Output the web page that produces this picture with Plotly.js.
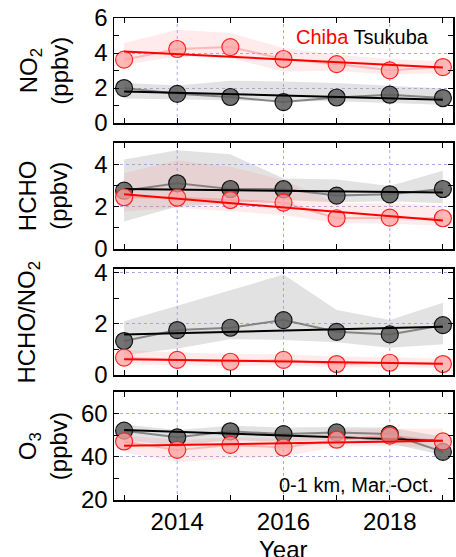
<!DOCTYPE html>
<html>
<head>
<meta charset="utf-8">
<script src="https://cdn.plot.ly/plotly-3.0.1.min.js"></script>
<style>html,body{margin:0;padding:0;background:#fff;} #chart{width:456px;height:557px;}</style>
</head>
<body>
<div id="chart"></div>
<script>
const years = [2013, 2014, 2015, 2016, 2017, 2018, 2019];
const trendYears = [2013, 2019];
const xTickLabels = ["", "2014", "", "2016", "", "2018", ""];

// NO2 (ppbv)
const chibaNO2 = [3.62, 4.23, 4.34, 3.66, 3.37, 3.01, 3.20];
const chibaNO2Hi = [4.57, 5.33, 5.14, 4.29, 3.90, 3.66, 3.52];
const chibaNO2Lo = [3.33, 3.80, 3.70, 2.95, 2.99, 2.76, 2.86];
const chibaNO2Trend = [4.09, 3.18];
const tsukubaNO2 = [2.00, 1.67, 1.49, 1.20, 1.46, 1.62, 1.43];
const tsukubaNO2Hi = [2.29, 2.15, 2.42, 2.38, 2.29, 2.15, 1.97];
const tsukubaNO2Lo = [1.40, 1.35, 1.30, 1.25, 1.25, 1.15, 1.05];
const tsukubaNO2Trend = [1.81, 1.33];

// HCHO (ppbv)
const chibaHCHO = [2.44, 2.42, 2.31, 2.19, 1.45, 1.48, 1.45];
const chibaHCHOHi = [3.57, 4.19, 3.88, 3.25, 2.16, 2.16, 2.05];
const chibaHCHOLo = [1.77, 1.95, 1.77, 1.61, 1.22, 1.20, 1.09];
const chibaHCHOTrend = [2.58, 1.34];
const tsukubaHCHO = [2.75, 3.10, 2.83, 2.82, 2.52, 2.58, 2.83];
const tsukubaHCHOHi = [4.22, 4.66, 4.47, 3.33, 3.28, 2.97, 3.69];
const tsukubaHCHOLo = [1.30, 2.00, 2.16, 2.31, 2.20, 2.25, 2.16];
const tsukubaHCHOTrend = [2.83, 2.66];

// HCHO/NO2
const chibaRatio = [0.68, 0.59, 0.52, 0.59, 0.43, 0.48, 0.43];
const chibaRatioHi = [0.98, 0.88, 0.82, 0.81, 0.72, 0.70, 0.65];
const chibaRatioLo = [0.42, 0.38, 0.35, 0.38, 0.30, 0.30, 0.27];
const chibaRatioTrend = [0.62, 0.44];
const tsukubaRatio = [1.33, 1.76, 1.85, 2.15, 1.69, 1.59, 1.95];
const tsukubaRatioHi = [2.10, 2.72, 3.32, 3.93, 2.54, 2.15, 2.83];
const tsukubaRatioLo = [0.78, 1.04, 1.40, 1.37, 1.28, 1.07, 1.20];
const tsukubaRatioTrend = [1.59, 1.89];

// O3 (ppbv)
const chibaO3 = [47.1, 43.2, 45.5, 44.3, 47.9, 49.8, 47.1];
const chibaO3Hi = [50.0, 47.6, 49.0, 48.5, 52.4, 53.1, 53.1];
const chibaO3Lo = [42.0, 37.6, 39.2, 40.0, 44.6, 45.0, 43.9];
const chibaO3Trend = [45.1, 47.4];
const tsukubaO3 = [52.1, 49.0, 51.8, 50.5, 51.3, 50.5, 42.3];
const tsukubaO3Hi = [54.9, 52.4, 54.4, 53.6, 53.8, 53.6, 49.3];
const tsukubaO3Lo = [47.6, 45.1, 47.6, 46.9, 48.0, 46.2, 40.8];
const tsukubaO3Trend = [52.4, 47.4];

const panels = [
  {c: chibaNO2, cHi: chibaNO2Hi, cLo: chibaNO2Lo, cT: chibaNO2Trend, t: tsukubaNO2, tHi: tsukubaNO2Hi, tLo: tsukubaNO2Lo, tT: tsukubaNO2Trend},
  {c: chibaHCHO, cHi: chibaHCHOHi, cLo: chibaHCHOLo, cT: chibaHCHOTrend, t: tsukubaHCHO, tHi: tsukubaHCHOHi, tLo: tsukubaHCHOLo, tT: tsukubaHCHOTrend},
  {c: chibaRatio, cHi: chibaRatioHi, cLo: chibaRatioLo, cT: chibaRatioTrend, t: tsukubaRatio, tHi: tsukubaRatioHi, tLo: tsukubaRatioLo, tT: tsukubaRatioTrend},
  {c: chibaO3, cHi: chibaO3Hi, cLo: chibaO3Lo, cT: chibaO3Trend, t: tsukubaO3, tHi: tsukubaO3Hi, tLo: tsukubaO3Lo, tT: tsukubaO3Trend}
];

const traces = [];
panels.forEach((p, i) => {
  const xa = i === 0 ? 'x' : 'x' + (i + 1);
  const ya = i === 0 ? 'y' : 'y' + (i + 1);
  const bandX = years.concat(years.slice().reverse());
  // Tsukuba band
  traces.push({x: bandX, y: p.tHi.concat(p.tLo.slice().reverse()), xaxis: xa, yaxis: ya,
    type: 'scatter', mode: 'lines', fill: 'toself', fillcolor: 'rgba(160,160,160,0.3)',
    line: {width: 0}, hoverinfo: 'skip', showlegend: false});
  // Chiba band
  traces.push({x: bandX, y: p.cHi.concat(p.cLo.slice().reverse()), xaxis: xa, yaxis: ya,
    type: 'scatter', mode: 'lines', fill: 'toself', fillcolor: 'rgba(255,120,120,0.15)',
    line: {width: 0}, hoverinfo: 'skip', showlegend: false});
  // Tsukuba points
  traces.push({x: years, y: p.t, xaxis: xa, yaxis: ya, type: 'scatter', mode: 'lines+markers',
    line: {color: 'rgba(110,110,110,0.8)', width: 2},
    marker: {size: 17, color: 'rgba(90,90,90,0.85)', line: {color: '#111', width: 1.2}}, showlegend: false});
  // Tsukuba trend
  traces.push({x: trendYears, y: p.tT, xaxis: xa, yaxis: ya, type: 'scatter', mode: 'lines',
    line: {color: '#000', width: 2}, showlegend: false});
  // Chiba points
  traces.push({x: years, y: p.c, xaxis: xa, yaxis: ya, type: 'scatter', mode: 'lines+markers',
    line: {color: 'rgba(255,120,120,0.45)', width: 2},
    marker: {size: 17, color: 'rgba(255,160,160,0.75)', line: {color: '#ff2020', width: 1.2}}, showlegend: false});
  // Chiba trend
  traces.push({x: trendYears, y: p.cT, xaxis: xa, yaxis: ya, type: 'scatter', mode: 'lines',
    line: {color: '#ff0000', width: 2}, showlegend: false});
});

const font = {family: '"Liberation Sans", Arial, sans-serif', size: 24, color: '#000'};
const gridColor = '#a8a8f0';

function xaxisDef(anchor, bottom) {
  return {
    domain: [0, 1], anchor: anchor, range: [2012.81, 2019.19],
    tickmode: 'array', tickvals: years, ticktext: bottom ? xTickLabels : years.map(() => ''),
    showticklabels: bottom, ticks: 'inside', ticklen: 5, tickwidth: 1, tickcolor: '#000',
    showline: true, linecolor: '#000', linewidth: 1.5, mirror: 'ticks',
    showgrid: false, zeroline: false, tickfont: font
  };
}
function yaxisDef(anchor, domain, range, dtick, minorDtick) {
  return {
    domain: domain, anchor: anchor, range: range, dtick: dtick, tick0: 0,
    ticks: 'inside', ticklen: 5, tickwidth: 1, tickcolor: '#000',
    minor: {dtick: minorDtick, ticks: 'inside', ticklen: 5, tickwidth: 1, tickcolor: '#000', showgrid: false},
    showline: true, linecolor: '#000', linewidth: 1.5, mirror: 'ticks',
    showgrid: true, gridcolor: gridColor, griddash: 'dot', gridwidth: 1,
    zeroline: false, tickfont: font
  };
}

// vertical grid lines at 2014, 2016, 2018 via shapes bound to axes
const gridYears = [2014, 2016, 2018];
const shapes = [];
['x', 'x2', 'x3', 'x4'].forEach((xa, i) => {
  const ya = i === 0 ? 'y' : 'y' + (i + 1);
  gridYears.forEach(g => shapes.push({type: 'line', xref: xa, yref: ya + ' domain', x0: g, x1: g, y0: 0, y1: 1,
    line: {color: gridColor, width: 1, dash: 'dot'}, layer: 'below'}));
});

const titleFont = {family: font.family, size: 24, color: '#000'};
const layout = {
  width: 456, height: 557,
  margin: {l: 114, r: 3, t: 18, b: 57},
  paper_bgcolor: '#fff', plot_bgcolor: '#fff',
  showlegend: false,
  xaxis: xaxisDef('y', false),
  xaxis2: xaxisDef('y2', false),
  xaxis3: xaxisDef('y3', false),
  xaxis4: xaxisDef('y4', true),
  yaxis: yaxisDef('x', [0.782, 1.0], [0, 6], 2, 1),
  yaxis2: yaxisDef('x2', [0.5207, 0.7407], [0, 5], 2, 1),
  yaxis3: yaxisDef('x3', [0.2593, 0.4793], [0, 4.15], 2, 1),
  yaxis4: yaxisDef('x4', [0, 0.2241], [20, 70], 20, 10),
  shapes: shapes,
  annotations: [
    {xref: 'x domain', yref: 'y domain', x: 0.935, y: 0.82, xanchor: 'right', yanchor: 'middle', showarrow: false,
      text: '<span style="color:#ff0000">Chiba</span> Tsukuba', font: {family: font.family, size: 20, color: '#000'}},
    {xref: 'x4 domain', yref: 'y4 domain', x: 0.947, y: 0.14, xanchor: 'right', yanchor: 'middle', showarrow: false,
      text: '0-1 km, Mar.-Oct.', font: {family: font.family, size: 20, color: '#000'}},
    {xref: 'paper', yref: 'paper', x: 0.5, y: -0.102, xanchor: 'center', yanchor: 'middle', showarrow: false,
      text: 'Year', font: titleFont},
    {xref: 'paper', yref: 'y domain', x: -0.209, y: 0.5, xanchor: 'center', yanchor: 'middle', showarrow: false,
      textangle: -90, text: 'NO<sub>2</sub><br>(ppbv)', font: titleFont},
    {xref: 'paper', yref: 'y2 domain', x: -0.209, y: 0.5, xanchor: 'center', yanchor: 'middle', showarrow: false,
      textangle: -90, text: 'HCHO<br>(ppbv)', font: titleFont},
    {xref: 'paper', yref: 'y3 domain', x: -0.252, y: 0.5, xanchor: 'center', yanchor: 'middle', showarrow: false,
      textangle: -90, text: 'HCHO/NO<sub>2</sub>', font: titleFont},
    {xref: 'paper', yref: 'y4 domain', x: -0.209, y: 0.5, xanchor: 'center', yanchor: 'middle', showarrow: false,
      textangle: -90, text: 'O<sub>3</sub><br>(ppbv)', font: titleFont}
  ]
};

Plotly.newPlot('chart', traces, layout, {staticPlot: true, displayModeBar: false});
</script>
</body>
</html>
